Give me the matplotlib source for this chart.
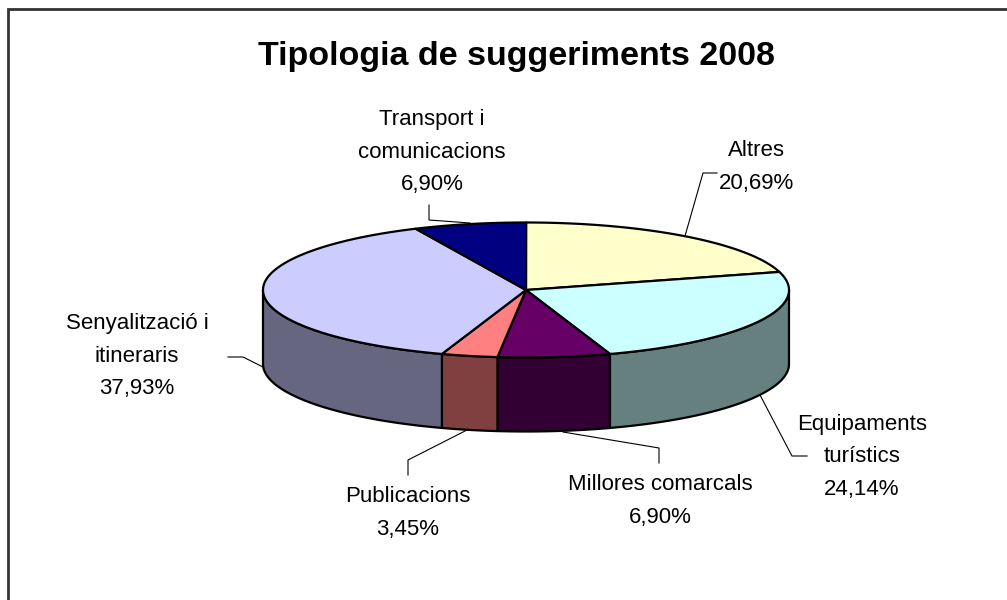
import numpy as np
import matplotlib.pyplot as plt
from matplotlib.patches import Polygon

etiquetes = ['Altres', 'Equipaments\nturístics', 'Millores comarcals',
             'Publicacions', 'Senyalització i\nitineraris', 'Transport i\ncomunicacions']
percentatges = [20.69, 24.14, 6.90, 3.45, 37.93, 6.90]
colors_sup = ['#FFFFCC', '#CCFFFF', '#660066', '#FF8080', '#CCCCFF', '#000080']
colors_lat = ['#808066', '#668080', '#330033', '#804040', '#666680', '#000040']

# posicio de les etiquetes i linies guia (pixels)
pos_etiq = [(756, 167), (862, 457), (660, 501), (408, 513), (137, 356), (432, 152)]
guies = [
    [(717, 173), (703, 173), (685, 236)],
    [(807, 456), (792, 456), (760, 395)],
    [(659, 463), (659, 448), (563, 432)],
    [(408, 475), (408, 460), (467, 430)],
    [(228, 357), (243, 357), (263, 367)],
    [(429, 205), (429, 220), (470, 223)],
]

cx, cy, rx, ry, prof = 526, 290, 263, 67.5, 74

fig = plt.figure(figsize=(10.07, 6.0), dpi=100)
ax = fig.add_axes([0, 0, 1, 1])
ax.set_xlim(0, 1007)
ax.set_ylim(600, 0)
ax.axis('off')

def punt(th, dy=0):
    return cx + rx * np.cos(th), cy - ry * np.sin(th) + dy

# angles de tall, en sentit horari des de dalt
angles = [np.pi / 2]
for p in percentatges:
    angles.append(angles[-1] - p / 100 * 2 * np.pi)

# cares laterals (nomes la meitat frontal)
for i in range(len(percentatges)):
    a0, a1 = angles[i], angles[i + 1]
    for k in (-2, -1, 0, 1):
        lo = max(min(a0, a1) + k * 2 * np.pi, -np.pi)
        hi = min(max(a0, a1) + k * 2 * np.pi, 0)
        if hi > lo:
            th = np.linspace(lo, hi, 100)
            x, y = punt(th)
            xs = np.concatenate([x, x[::-1]])
            ys = np.concatenate([y, (y + prof)[::-1]])
            ax.add_patch(Polygon(np.column_stack([xs, ys]), closed=True,
                                 facecolor=colors_lat[i], edgecolor='black', lw=1.6,
                                 joinstyle='round'))

# cares superiors
for i in range(len(percentatges)):
    th = np.linspace(angles[i], angles[i + 1], 200)
    x, y = punt(th)
    xs = np.concatenate([[cx], x])
    ys = np.concatenate([[cy], y])
    ax.add_patch(Polygon(np.column_stack([xs, ys]), closed=True,
                         facecolor=colors_sup[i], edgecolor='black', lw=1.6,
                         joinstyle='round'))

for i, et in enumerate(etiquetes):
    txt = et + '\n' + f'{percentatges[i]:.2f}'.replace('.', ',') + '%'
    ax.text(pos_etiq[i][0], pos_etiq[i][1], txt, ha='center', va='center',
            fontsize=16, family='Liberation Sans', linespacing=1.72)
    g = np.array(guies[i])
    ax.plot(g[:, 0], g[:, 1], color='black', lw=0.8)

ax.text(516, 56, 'Tipologia de suggeriments 2008', ha='center', va='center',
        fontsize=24.5, fontweight='bold', family='Liberation Sans')

# marc
ax.plot([8, 8, 1007], [600, 9, 9], color='#333333', lw=2, solid_joinstyle='miter')

fig.savefig('out.png', dpi=100)
